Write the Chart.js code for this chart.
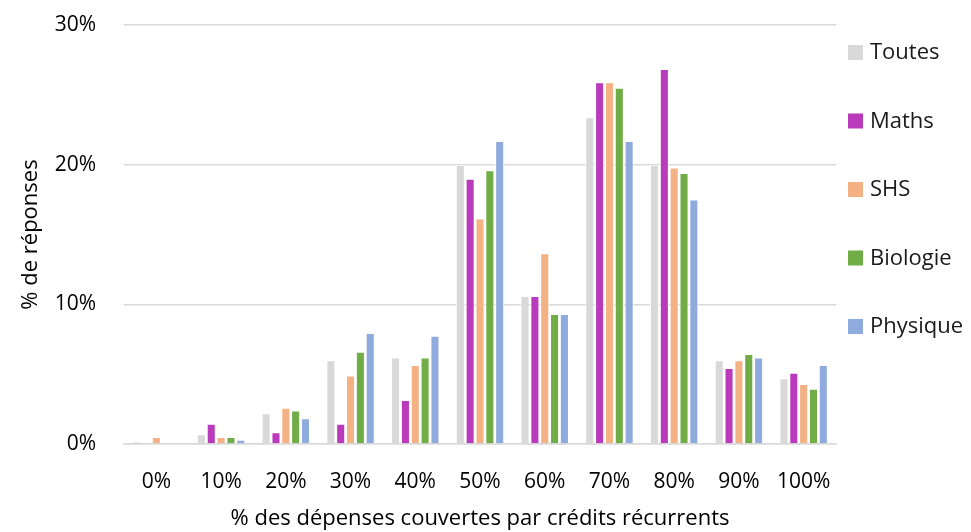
<!DOCTYPE html>
<html lang="fr">
<head>
    <script src="https://cdn.jsdelivr.net/npm/chart.js@4.4.1/dist/chart.umd.min.js"></script>
    <style>
        html, body { margin: 0; padding: 0; background: #fff; }
        #canvas-container { position: relative; width: 971px; height: 532px; }
    </style>
</head>
<body>

<div id="canvas-container">
    <canvas id="bar-chart"></canvas>
</div>

<script>
    // categories (x axis)
    const categories = ["0%", "10%", "20%", "30%", "40%", "50%", "60%", "70%", "80%", "90%", "100%"];

    // % of answers per discipline
    const toutes   = [0.15, 0.7, 2.2, 6.0, 6.2, 20.0, 10.6, 23.4, 20.0, 6.0, 4.7];
    const maths    = [0, 1.45, 0.85, 1.45, 3.15, 19.0, 10.6, 25.9, 26.85, 5.45, 5.1];
    const shs      = [0.5, 0.5, 2.6, 4.9, 5.65, 16.15, 13.65, 25.9, 19.8, 6.0, 4.3];
    const biologie = [0, 0.5, 2.4, 6.6, 6.2, 19.6, 9.3, 25.5, 19.4, 6.45, 3.95];
    const physique = [0, 0.3, 1.85, 7.95, 7.75, 21.7, 9.3, 21.7, 17.5, 6.2, 5.65];

    const yTicks = [0, 10, 20, 30];

    const seriesNames = ["Toutes", "Maths", "SHS", "Biologie", "Physique"];
    const seriesColors = ["#d9d9d9", "#b93abb", "#f4b183", "#70ad47", "#8faadc"];

    const FONT = "'Open Sans', sans-serif";

    // legend drawn on the right, one item per row
    const sideLegend = {
        id: "sideLegend",
        afterDraw(chart) {
            const ctx = chart.ctx;
            ctx.save();
            ctx.font = "22px " + FONT;
            ctx.textBaseline = "middle";
            ctx.textAlign = "left";
            chart.data.datasets.forEach((ds, i) => {
                const y = 52 + i * 68.5;
                ctx.fillStyle = ds.backgroundColor;
                ctx.fillRect(848, y - 7, 15, 15);
                ctx.fillStyle = "#1a1a1a";
                ctx.fillText(ds.label, 870, y + 1);
            });
            ctx.restore();
        }
    };

    function draw() {
        const ctx = document.getElementById("bar-chart").getContext("2d");
        const values = [toutes, maths, shs, biologie, physique];

        new Chart(ctx, {
            type: "bar",
            data: {
                labels: categories,
                datasets: seriesNames.map((name, i) => ({
                    label: name,
                    data: values[i],
                    backgroundColor: seriesColors[i],
                    borderColor: "#ffffff",
                    borderWidth: 1,
                    barPercentage: 0.92,
                    categoryPercentage: 0.76
                }))
            },
            options: {
                responsive: true,
                maintainAspectRatio: false,
                animation: false,
                layout: { padding: { top: 25, right: 135, left: 18, bottom: 0 } },
                plugins: {
                    legend: { display: false },
                    tooltip: { enabled: false }
                },
                scales: {
                    x: {
                        grid: { display: false },
                        border: { color: "#d9d9d9", width: 1.5 },
                        ticks: {
                            color: "#000",
                            font: { family: FONT, size: 21 },
                            padding: 17,
                            maxRotation: 0
                        },
                        title: {
                            display: true,
                            text: "% des dépenses couvertes par crédits récurrents",
                            color: "#000",
                            font: { family: FONT, size: 22 },
                            padding: { top: 6, bottom: 0 }
                        },
                        afterFit(scale) { scale.height = 88; }
                    },
                    y: {
                        min: 0,
                        max: 30,
                        afterBuildTicks(scale) {
                            scale.ticks = yTicks.map(v => ({ value: v }));
                        },
                        grid: { color: "#d9d9d9", lineWidth: 1.5, drawTicks: false },
                        border: { display: false },
                        ticks: {
                            color: "#000",
                            font: { family: FONT, size: 21 },
                            padding: 28,
                            callback: v => v + "%"
                        },
                        title: {
                            display: true,
                            text: "% de réponses",
                            color: "#000",
                            font: { family: FONT, size: 22 },
                            padding: { top: 0, bottom: 6 }
                        },
                        afterFit(scale) {
                            scale.width = 106;
                            scale.paddingTop = 0;
                            scale.paddingBottom = 0;
                        }
                    }
                }
            },
            plugins: [sideLegend]
        });
    }

    draw();
</script>

</body>
</html>
